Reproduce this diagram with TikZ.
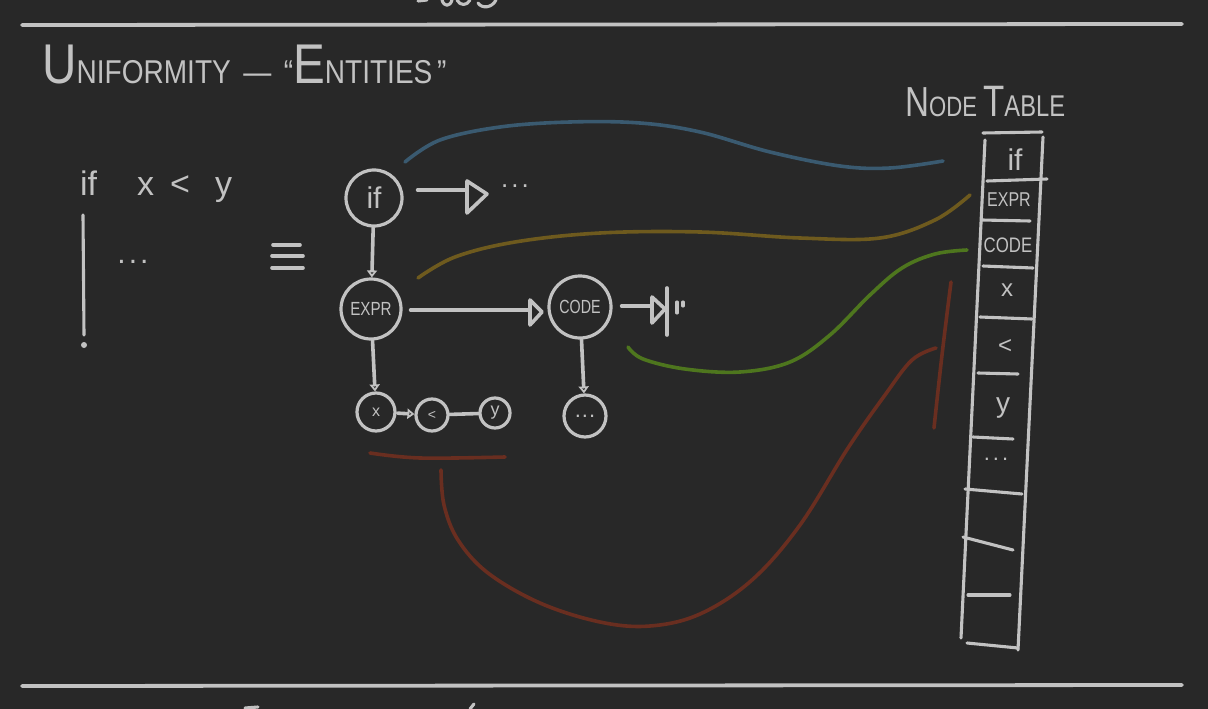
\documentclass[tikz,border=0pt]{standalone}
\usepackage{fontspec}
\usepackage{graphicx}
\setmainfont{Liberation Sans}
\usetikzlibrary{arrows.meta}
\definecolor{bg}{RGB}{40,40,40}
\definecolor{chalk}{RGB}{194,194,194}
\definecolor{cblue}{RGB}{58,90,112}
\definecolor{colive}{RGB}{110,90,30}
\definecolor{cgreen}{RGB}{78,118,30}
\definecolor{cred}{RGB}{105,46,32}
\newcommand{\fsz}[1]{\fontsize{#1}{#1}\selectfont}
\begin{document}
\begin{tikzpicture}[x=1pt,y=-1pt,
  chalkline/.style={draw=chalk, line width=3.6pt, line cap=round, line join=round},
  thinline/.style={draw=chalk, line width=3.1pt, line cap=round, line join=round},
  gnode/.style={circle, draw=chalk, line width=3.2pt, inner sep=0pt, text=chalk},
  txt/.style={text=chalk, inner sep=0pt},
  arrowedge/.style={chalkline, -{Triangle[open,length=7pt,width=10pt]}},
  tinted/.style={line width=3.6pt, line cap=round, line join=round}
]
\fill[bg] (0,0) rectangle (1208,709);
\useasboundingbox (0,0) rectangle (1208,709);

% separator lines
\draw[chalkline, line width=3.8pt] (22,25) -- (1182,24);
\draw[chalkline, line width=3.8pt] (22,686) -- (1182,685);
% cut-off strokes of neighbouring slides
\draw[thinline] (418,1) -- (427,0);
\draw[thinline] (442,0) .. controls (444,7) and (450,7) .. (452,0);
\draw[thinline] (457,0) .. controls (460,6) and (467,6) .. (470,0);
\draw[thinline] (478,3) .. controls (482,9) and (492,8) .. (496,0);
\draw[thinline] (245,708) -- (258,707);
\draw[thinline] (470,709) -- (474,704);

% title
\node[txt, anchor=base west] (title) at (42,84) {\scalebox{0.85}[1]{\fsz{56}U\fsz{33}NIFORMITY \,—\, “\fsz{56}E\fsz{33}NTITIES\,”}};

% left code
\node[txt, anchor=base west] (code) at (80,195) {\fsz{34}\makebox[57pt][l]{if}\makebox[33pt][l]{x}\makebox[45pt][l]{<}y};
\draw[thinline] (83,215) -- (84,335);
\fill[chalk] (84,345) circle (3pt);
\node[txt] (ldots) at (133,262) {\fsz{30}.\hspace{3pt}.\hspace{3pt}.};

% equivalence
\draw[chalkline] (273,245) -- (300,245);
\draw[chalkline] (272,256) -- (303,256);
\draw[chalkline] (272,268) -- (303,268);

% graph nodes
\node[gnode, minimum size=56pt] (nif) at (374,198) {\fsz{30}if};
\node[gnode, minimum size=60pt] (nexpr) at (371,309) {\scalebox{0.8}[1]{\fsz{19}EXPR}};
\node[gnode, minimum size=62pt] (ncode) at (580,307) {\scalebox{0.75}[1]{\fsz{19}CODE}};
\node[gnode, minimum size=38pt] (nx) at (376,412) {\fsz{16}x};
\node[gnode, minimum size=32pt] (nlt) at (432,415) {\fsz{14}<};
\node[gnode, minimum size=30pt] (ny) at (495,413) {\fsz{18}y};
\node[gnode, minimum size=42pt] (ndots) at (585,416) {\fsz{22}.\hspace{1pt}.\hspace{1pt}.};

% graph edges
\draw[arrowedge] (nif) -- (nexpr);
\draw[arrowedge] (nexpr) -- (nx);
\draw[arrowedge] (ncode) -- (ndots);
\draw[arrowedge, shorten <=1pt] (nx) -- (nlt);
\draw[chalkline] (nlt) -- (ny);

% pointer from if
\coordinate (t1) at (466,190);
\draw[chalkline, shorten <=14pt] (nif.east |- t1) -- (t1);
\draw[chalkline] (467,181) -- (487,194) -- (467,213) -- cycle;
\node[txt] (idots) at (515,186) {\fsz{26}.\hspace{3pt}.\hspace{3pt}.};

% pointer from expr to code
\coordinate (t2) at (528,310);
\draw[chalkline, shorten <=8pt] (nexpr.east |- t2) -- (t2);
\draw[chalkline] (530,300) -- (542,312) -- (530,325) -- cycle;

% null pointer from code
\coordinate (t3) at (651,306);
\draw[chalkline, shorten <=9pt] (ncode.east |- t3) -- (t3);
\draw[chalkline] (652,297) -- (665,309) -- (652,323) -- cycle;
\draw[chalkline] (667,288) -- (667,335);
\draw[thinline] (677,302) -- (677,313);
\draw[thinline] (683,302) -- (683,306);

% node table
\node[txt, anchor=base west] (ttl) at (905,116) {\scalebox{0.79}[1]{\fsz{42}N\fsz{28}ODE \fsz{44}T\fsz{30}ABLE}};
\draw[thinline] (983,133) -- (1042,132);
\draw[thinline] (985,140) -- (961,638);
\draw[thinline] (1043,137) -- (1018,650);
\draw[thinline] (987,181) -- (1047,179);
\draw[thinline] (982,220) -- (1030,221);
\draw[thinline] (983,266) -- (1033,268);
\draw[thinline] (980,317) -- (1032,319);
\draw[thinline] (978,373) -- (1018,374);
\draw[thinline] (973,437) -- (1013,439);
\draw[thinline] (965,489) -- (1022,494);
\draw[thinline] (963,537) -- (1013,550);
\draw[thinline] (968,595) -- (1010,595);
\draw[thinline] (967,643) -- (1018,648);
\node[txt] (rif) at (1015,160) {\fsz{30}if};
\node[txt] (rexpr) at (1009,200) {\scalebox{0.8}[1]{\fsz{20}EXPR}};
\node[txt] (rcode) at (1008,245) {\scalebox{0.8}[1]{\fsz{21}CODE}};
\node[txt] (rx) at (1007,290) {\fsz{24}x};
\node[txt] (rlt) at (1005,347) {\fsz{24}<};
\node[txt] (ry) at (1003,408) {\fsz{28}y};
\node[txt] (rdots) at (996,459) {\fsz{22}.\hspace{3pt}.\hspace{3pt}.};

% coloured correspondence strokes
\draw[tinted, cblue] plot[smooth, tension=0.6] coordinates {(405,162) (440,140) (500,127) (570,122) (640,123) (700,132) (770,152) (840,166) (890,168) (943,161)};
\draw[tinted, colive] plot[smooth, tension=0.6] coordinates {(418,278) (455,257) (515,242) (600,233) (700,232) (800,238) (880,238) (935,220) (970,195)};
\draw[tinted, cgreen] plot[smooth, tension=0.6] coordinates {(628,347) (643,359) (685,369) (740,372) (790,362) (830,335) (870,295) (902,268) (935,254) (967,250)};
\draw[tinted, cred] plot[smooth, tension=0.6] coordinates {(370,453) (420,458) (505,457)};
\draw[tinted, cred] plot[smooth, tension=0.6] coordinates {(441,470) (444,505) (458,540) (488,573) (540,603) (600,622) (650,626) (700,614) (752,580) (800,525) (848,448) (885,395) (912,360) (936,348)};
\draw[tinted, cred] plot[smooth, tension=0.6] coordinates {(951,282) (942,355) (934,428)};
\end{tikzpicture}
\end{document}
